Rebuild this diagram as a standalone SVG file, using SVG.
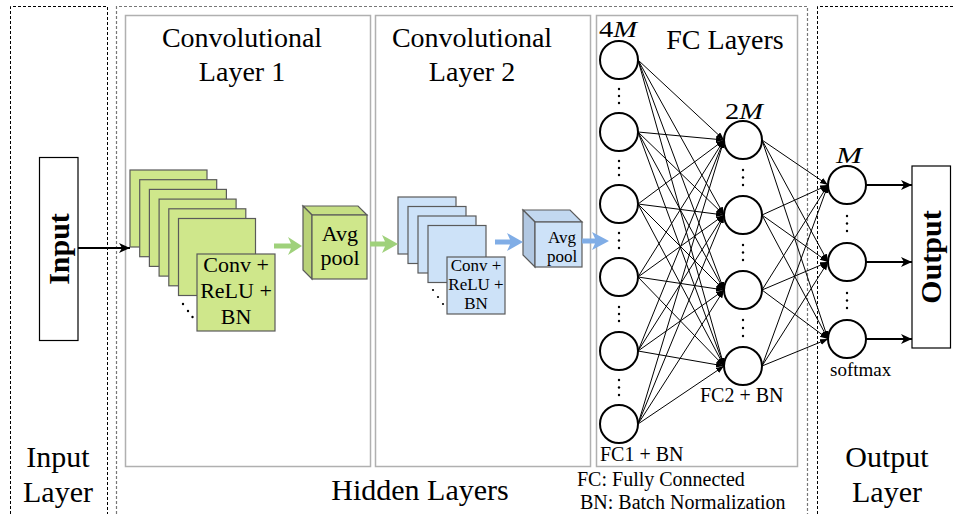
<svg xmlns="http://www.w3.org/2000/svg" width="955" height="514" viewBox="0 0 955 514">
<defs>
<style>
text{font-family:"Liberation Serif","Times New Roman",serif;fill:#000}
.title{font-size:28px;text-anchor:middle}
.big{font-size:30px;text-anchor:middle}
.bold{font-size:30px;font-weight:bold;text-anchor:middle}
.lbl{font-size:20px}
.math{font-size:24px}
.math tspan.i{font-style:italic}
.dashk{fill:none;stroke:#000;stroke-width:1;stroke-dasharray:3,2}
.dashg{fill:none;stroke:#777;stroke-width:1.2;stroke-dasharray:3,2}
.panel{fill:none;stroke:#b0b0b0;stroke-width:1.5}
.g{fill:#cfe78b;stroke:#5a5a5a;stroke-width:1.2}
.gs{fill:#b9d279;stroke:#5a5a5a;stroke-width:1.2}
.gt{fill:#c6df84;stroke:#5a5a5a;stroke-width:1.2}
.b{fill:#cde2f8;stroke:#5a5a5a;stroke-width:1.2}
.bs{fill:#b2c8e2;stroke:#5a5a5a;stroke-width:1.2}
.bt{fill:#c2d8f0;stroke:#5a5a5a;stroke-width:1.2}
.neuron{fill:#fff;stroke:#000;stroke-width:2}
.fc{stroke:#000;stroke-width:1;fill:none;marker-end:url(#sm)}
.thick{stroke:#000;stroke-width:2;fill:none;marker-end:url(#big)}
.dot{fill:#000}
.box{fill:#fff;stroke:#000;stroke-width:1.2}
</style>
<marker id="sm" markerUnits="userSpaceOnUse" markerWidth="10" markerHeight="8" refX="8" refY="3" orient="auto">
<path d="M0,0 L8,3 L0,6 z" fill="#000"/>
</marker>
<marker id="big" markerUnits="userSpaceOnUse" markerWidth="12" markerHeight="12" refX="11" refY="5" orient="auto">
<path d="M0,0 L11,5 L0,10 L3,5 z" fill="#000"/>
</marker>
</defs>

<!-- layer frames -->
<g id="frames">
<path class="dashk" d="M10.5,514 V6.5 H107.5 V514"/>
<path class="dashg" d="M116.5,514 V6.5 H807.5 V514"/>
<path class="dashk" d="M817.5,514 V6.5 H955"/>
<rect class="panel" x="125.5" y="15.5" width="245" height="451"/>
<rect class="panel" x="375.5" y="15.5" width="215" height="451"/>
<rect class="panel" x="596.5" y="15.5" width="201" height="451"/>
</g>

<g id="labels">
<text class="title" x="242" y="47">Convolutional</text>
<text class="title" x="242" y="81">Layer 1</text>
<text class="title" x="472" y="47">Convolutional</text>
<text class="title" x="472" y="81">Layer 2</text>
<text class="title" x="725" y="49">FC Layers</text>
<text class="big" x="58" y="467">Input</text>
<text class="big" x="58" y="502">Layer</text>
<text class="big" x="420" y="500">Hidden Layers</text>
<text class="big" x="887" y="467">Output</text>
<text class="big" x="887" y="502">Layer</text>
<text style="font-size:20px" x="577" y="486">FC: Fully Connected</text>
<text style="font-size:20px" x="580" y="509">BN: Batch Normalization</text>
<text class="lbl" x="600" y="461">FC1 + BN</text>
<text class="lbl" x="700" y="402">FC2 + BN</text>
<text style="font-size:19px" x="830" y="376">softmax</text>
<text class="math" x="599" y="37" textLength="38" lengthAdjust="spacingAndGlyphs">4<tspan class="i">M</tspan></text>
<text class="math" x="725" y="119" textLength="38" lengthAdjust="spacingAndGlyphs">2<tspan class="i">M</tspan></text>
<text class="math" x="836" y="163" textLength="26" lengthAdjust="spacingAndGlyphs"><tspan class="i">M</tspan></text>
</g>

<g id="input">
<rect class="box" x="39.5" y="157.5" width="38.5" height="183"/>
<text class="bold" transform="translate(58.5,249) rotate(-90)" x="0" y="10">Input</text>
</g>

<g id="output">
<rect class="box" x="912" y="166" width="38.5" height="182"/>
<text class="bold" transform="translate(931,257) rotate(-90)" x="0" y="10">Output</text>
</g>

<g id="conv1">
<rect class="g" x="130" y="170" width="77" height="77"/>
<rect class="g" x="139.7" y="179.7" width="77" height="77"/>
<rect class="g" x="149.4" y="189.4" width="77" height="77"/>
<rect class="g" x="159.1" y="199.1" width="77" height="77"/>
<rect class="g" x="168.8" y="208.8" width="77" height="77"/>
<rect class="g" x="178.5" y="218.5" width="77" height="77"/>
<rect class="g" x="197" y="254" width="78" height="77"/>
<circle class="dot" cx="183" cy="304" r="1.2"/>
<circle class="dot" cx="188" cy="311" r="1.2"/>
<circle class="dot" cx="192.5" cy="317" r="1.2"/>
<text style="font-size:22px;text-anchor:middle" x="236" y="272">Conv +</text>
<text style="font-size:22px;text-anchor:middle" x="236" y="298">ReLU +</text>
<text style="font-size:22px;text-anchor:middle" x="236" y="324">BN</text>
</g>

<g id="pool1">
<polygon class="gt" points="303,206 358,206 367,215 312,215"/>
<polygon class="gs" points="303,206 312,215 312,279 303,270"/>
<rect class="g" x="312" y="215" width="55" height="64"/>
<text style="font-size:22px;text-anchor:middle" x="340" y="241">Avg</text>
<text style="font-size:22px;text-anchor:middle" x="340" y="265">pool</text>
</g>

<g id="conv2">
<rect class="b" x="398" y="197" width="58" height="57"/>
<rect class="b" x="408" y="206.5" width="58" height="57"/>
<rect class="b" x="418" y="216" width="58" height="57"/>
<rect class="b" x="428" y="225.5" width="58" height="57"/>
<rect class="b" x="447" y="257" width="58" height="57"/>
<circle class="dot" cx="433" cy="290" r="1.1"/>
<circle class="dot" cx="438" cy="297" r="1.1"/>
<circle class="dot" cx="443" cy="304" r="1.1"/>
<text style="font-size:17px;text-anchor:middle" x="476" y="271">Conv +</text>
<text style="font-size:17px;text-anchor:middle" x="476" y="290">ReLU +</text>
<text style="font-size:17px;text-anchor:middle" x="476" y="309">BN</text>
</g>

<g id="pool2">
<polygon class="bt" points="523,210 570,210 582,222 535,222"/>
<polygon class="bs" points="523,210 535,222 535,267 523,255"/>
<rect class="b" x="535" y="222" width="47" height="45"/>
<text style="font-size:17px;text-anchor:middle" x="562" y="243">Avg</text>
<text style="font-size:17px;text-anchor:middle" x="562" y="262">pool</text>
</g>

<g id="fc1">
<circle class="neuron" cx="619" cy="60" r="19"/>
<circle class="neuron" cx="619" cy="132" r="19"/>
<circle class="neuron" cx="619" cy="204" r="19"/>
<circle class="neuron" cx="619" cy="277" r="19"/>
<circle class="neuron" cx="619" cy="351" r="19"/>
<circle class="neuron" cx="619" cy="424" r="19"/>
<g class="dot">
<circle cx="619" cy="89" r="1.2"/><circle cx="619" cy="96" r="1.2"/><circle cx="619" cy="103" r="1.2"/>
<circle cx="619" cy="161" r="1.2"/><circle cx="619" cy="168" r="1.2"/><circle cx="619" cy="175" r="1.2"/>
<circle cx="619" cy="233" r="1.2"/><circle cx="619" cy="240.5" r="1.2"/><circle cx="619" cy="248" r="1.2"/>
<circle cx="619" cy="307" r="1.2"/><circle cx="619" cy="314" r="1.2"/><circle cx="619" cy="321" r="1.2"/>
<circle cx="619" cy="380" r="1.2"/><circle cx="619" cy="387.5" r="1.2"/><circle cx="619" cy="395" r="1.2"/>
</g>
</g>

<g id="fc2">
<circle class="neuron" cx="743" cy="140" r="19"/>
<circle class="neuron" cx="743" cy="215" r="19"/>
<circle class="neuron" cx="743" cy="290" r="19"/>
<circle class="neuron" cx="743" cy="366" r="19"/>
<g class="dot">
<circle cx="743" cy="170" r="1.2"/><circle cx="743" cy="177.5" r="1.2"/><circle cx="743" cy="185" r="1.2"/>
<circle cx="743" cy="245" r="1.2"/><circle cx="743" cy="252.5" r="1.2"/><circle cx="743" cy="260" r="1.2"/>
<circle cx="743" cy="320" r="1.2"/><circle cx="743" cy="328" r="1.2"/><circle cx="743" cy="336" r="1.2"/>
</g>
</g>

<g id="softmax">
<circle class="neuron" cx="847" cy="185" r="19"/>
<circle class="neuron" cx="847" cy="262" r="19"/>
<circle class="neuron" cx="847" cy="339" r="19"/>
<g class="dot">
<circle cx="847" cy="216" r="1.2"/><circle cx="847" cy="223.5" r="1.2"/><circle cx="847" cy="231" r="1.2"/>
<circle cx="847" cy="293" r="1.2"/><circle cx="847" cy="300.5" r="1.2"/><circle cx="847" cy="308" r="1.2"/>
</g>
</g>

<g id="connectors">
<line class="thick" x1="78" y1="248" x2="130" y2="248"/>
<polygon fill="#9fd17b" points="274,243.5 291,243.5 288,237 302,246 288,255 291,248.5 274,248.5"/>
<polygon fill="#9fd17b" points="370,241.5 385,241.5 382,235 398,244 382,253 385,246.5 370,246.5"/>
<polygon fill="#80ade6" points="495,239.5 510,239.5 507,233 523,242 507,251 510,244.5 495,244.5"/>
<polygon fill="#80ade6" points="582,238.5 595,238.5 592,232 609,241 592,250 595,243.5 582,243.5"/>
<g>
<line class="fc" x1="638" y1="60" x2="724" y2="140"/><line class="fc" x1="638" y1="60" x2="724" y2="215"/><line class="fc" x1="638" y1="60" x2="724" y2="290"/><line class="fc" x1="638" y1="60" x2="724" y2="366"/>
<line class="fc" x1="638" y1="132" x2="724" y2="140"/><line class="fc" x1="638" y1="132" x2="724" y2="215"/><line class="fc" x1="638" y1="132" x2="724" y2="290"/><line class="fc" x1="638" y1="132" x2="724" y2="366"/>
<line class="fc" x1="638" y1="204" x2="724" y2="140"/><line class="fc" x1="638" y1="204" x2="724" y2="215"/><line class="fc" x1="638" y1="204" x2="724" y2="290"/><line class="fc" x1="638" y1="204" x2="724" y2="366"/>
<line class="fc" x1="638" y1="277" x2="724" y2="140"/><line class="fc" x1="638" y1="277" x2="724" y2="215"/><line class="fc" x1="638" y1="277" x2="724" y2="290"/><line class="fc" x1="638" y1="277" x2="724" y2="366"/>
<line class="fc" x1="638" y1="351" x2="724" y2="140"/><line class="fc" x1="638" y1="351" x2="724" y2="215"/><line class="fc" x1="638" y1="351" x2="724" y2="290"/><line class="fc" x1="638" y1="351" x2="724" y2="366"/>
<line class="fc" x1="638" y1="424" x2="724" y2="140"/><line class="fc" x1="638" y1="424" x2="724" y2="215"/><line class="fc" x1="638" y1="424" x2="724" y2="290"/><line class="fc" x1="638" y1="424" x2="724" y2="366"/>
<line class="fc" x1="762" y1="140" x2="828" y2="185"/><line class="fc" x1="762" y1="140" x2="828" y2="262"/><line class="fc" x1="762" y1="140" x2="828" y2="339"/>
<line class="fc" x1="762" y1="215" x2="828" y2="185"/><line class="fc" x1="762" y1="215" x2="828" y2="262"/><line class="fc" x1="762" y1="215" x2="828" y2="339"/>
<line class="fc" x1="762" y1="290" x2="828" y2="185"/><line class="fc" x1="762" y1="290" x2="828" y2="262"/><line class="fc" x1="762" y1="290" x2="828" y2="339"/>
<line class="fc" x1="762" y1="366" x2="828" y2="185"/><line class="fc" x1="762" y1="366" x2="828" y2="262"/><line class="fc" x1="762" y1="366" x2="828" y2="339"/>
</g>
<line class="thick" x1="866" y1="185" x2="912" y2="185"/>
<line class="thick" x1="866" y1="262" x2="912" y2="262"/>
<line class="thick" x1="866" y1="339" x2="912" y2="339"/>
</g>
</svg>
